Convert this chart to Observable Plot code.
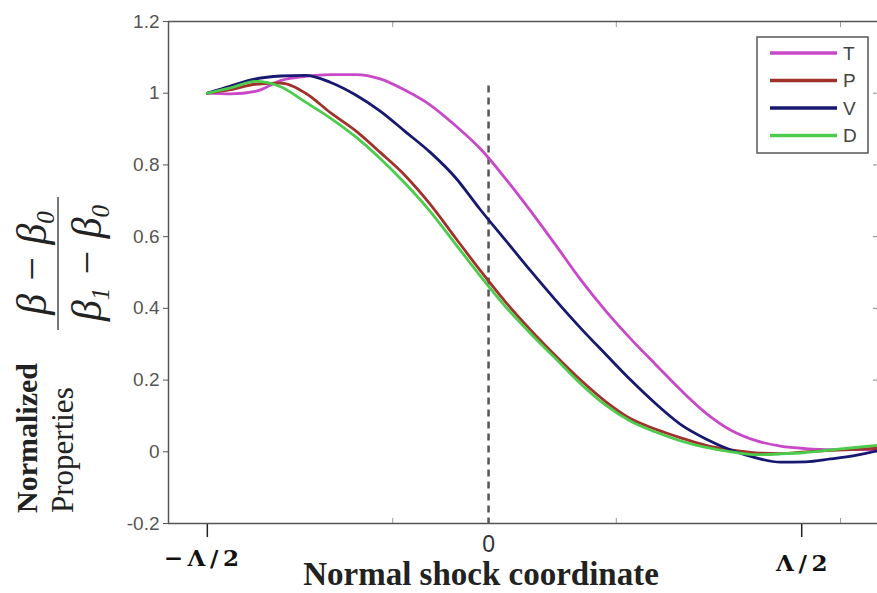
<!DOCTYPE html>
<html><head><meta charset="utf-8">
<script src="https://cdn.jsdelivr.net/npm/d3@7"></script>
<script src="https://cdn.jsdelivr.net/npm/@observablehq/plot@0.6"></script>
<style>html,body{margin:0;padding:0;background:#fff;overflow:hidden}</style>
</head><body><div id="chart"></div>
<script>
// x in units of Λ (shock-normal coordinate), y normalized property
const xDomain = [-0.511, 0.621];
const yDomain = [-0.2, 1.2];
const yTicks = [-0.2, 0, 0.2, 0.4, 0.6, 0.8, 1, 1.2];
const xLabelTicks = [-0.449, 0.5];
const xLabelTexts = ["−\u2009Λ\u2009/\u20092", "Λ\u2009/\u20092"];
const xZero = [0];
const xMinorTicks = [-0.153, 0.204, 0.562];
const dashTop = 1.02;

const xGrid = [-0.449, -0.412, -0.372, -0.332, -0.292, -0.252, -0.212, -0.173, -0.133, -0.093,
  -0.053, -0.013, 0.027, 0.067, 0.107, 0.147, 0.187, 0.227, 0.267, 0.307,
  0.347, 0.387, 0.427, 0.466, 0.506, 0.546, 0.586, 0.621];

const seriesNames = ["T", "P", "V", "D"];
const seriesColors = ["#c848c8", "#a0322b", "#17186f", "#4ccc4c"];

const tValues = [1.0, 0.998, 1.005, 1.035, 1.047, 1.052, 1.052, 1.04, 1.008, 0.967,
  0.91, 0.845, 0.762, 0.672, 0.577, 0.48, 0.393, 0.315, 0.243, 0.172,
  0.108, 0.06, 0.031, 0.016, 0.009, 0.006, 0.006, 0.007];
const pValues = [1.0, 1.01, 1.025, 1.028, 1.0, 0.945, 0.895, 0.835, 0.77, 0.69,
  0.597, 0.505, 0.418, 0.34, 0.268, 0.2, 0.14, 0.092, 0.063, 0.039,
  0.018, 0.005, -0.003, -0.005, 0.0, 0.004, 0.007, 0.01];
const vValues = [1.0, 1.02, 1.04, 1.048, 1.05, 1.03, 0.995, 0.95, 0.893, 0.835,
  0.765, 0.675, 0.59, 0.505, 0.423, 0.345, 0.272, 0.2, 0.134, 0.076,
  0.036, 0.005, -0.017, -0.029, -0.028, -0.02, -0.01, 0.003];
const dValues = [1.0, 1.015, 1.033, 1.018, 0.975, 0.93, 0.878, 0.818, 0.748, 0.67,
  0.58, 0.49, 0.405, 0.33, 0.26, 0.19, 0.13, 0.085, 0.055, 0.03,
  0.012, 0.0, -0.008, -0.006, -0.002, 0.005, 0.012, 0.018];

const seriesValues = [tValues, pValues, vValues, dValues];
const rows = seriesNames.flatMap((name, i) => xGrid.map((x, j) => ({series: name, x, y: seriesValues[i][j]})));

const serifBold = "DejaVu Serif, serif";
const times = "Liberation Serif, Times New Roman, serif";
const sans = "Liberation Sans, Arial, sans-serif";

const plot = Plot.plot({
  width: 877, height: 593,
  marginLeft: 168, marginRight: 0, marginTop: 21, marginBottom: 70,
  x: {domain: xDomain, axis: null},
  y: {domain: yDomain, axis: null},
  color: {domain: seriesNames, range: seriesColors},
  style: {background: "white", overflow: "visible"},
  marks: [
    Plot.axisY(yTicks, {anchor: "left", label: null, tickSize: 5, tickPadding: 4, fontSize: 19, fontFamily: sans, color: "#555", tickFormat: d => String(d)}),
    Plot.axisY(yTicks, {anchor: "right", label: null, tickSize: -5, tickFormat: () => "", color: "#888"}),
    Plot.axisX(xMinorTicks, {anchor: "bottom", label: null, tickSize: -5, tickFormat: () => "", color: "#999"}),
    Plot.axisX(xMinorTicks, {anchor: "top", label: null, tickSize: -5, tickFormat: () => "", color: "#999"}),
    Plot.axisX(xLabelTicks, {anchor: "bottom", label: null, tickSize: 14, tickFormat: () => "", color: "#222", strokeWidth: 1.5}),
    Plot.ruleX(xZero, {y1: dashTop, y2: yDomain[0], stroke: "#555", strokeWidth: 2.5, strokeDasharray: "7,5"}),
    Plot.line(rows, {x: "x", y: "y", stroke: "series", strokeWidth: 2.8, curve: "monotone-x"}),
    Plot.ruleY([yDomain[1]], {stroke: "#555", strokeWidth: 1.5}),
    Plot.ruleY([yDomain[0]], {stroke: "#555", strokeWidth: 1.5}),
    Plot.ruleX([xDomain[0]], {stroke: "#555", strokeWidth: 1.5}),
    Plot.text([xLabelTicks[0]], {x: d => d, text: () => xLabelTexts[0], frameAnchor: "bottom", dx: -6, dy: 42, fontSize: 23, fontWeight: "bold", fontFamily: serifBold, fill: "#111"}),
    Plot.text([xLabelTicks[1]], {x: d => d, text: () => xLabelTexts[1], frameAnchor: "bottom", dy: 47, fontSize: 23, fontWeight: "bold", fontFamily: serifBold, fill: "#111"}),
    Plot.text(xZero, {x: d => d, text: () => "0", frameAnchor: "bottom", dy: 28, fontSize: 23, fontFamily: sans, fill: "#333"}),
    Plot.text(["Normal shock coordinate"], {frameAnchor: "bottom", dx: -42, dy: 61, fontSize: 33, fontWeight: "bold", fontFamily: times, fill: "#222"})
  ]
});

document.getElementById("chart").appendChild(plot);
const svg = d3.select(plot);

// Y-axis title
svg.append("text").attr("transform", "translate(37,513) rotate(-90)").attr("text-anchor", "start")
  .attr("font-family", times).attr("font-weight", "bold").attr("font-size", 30).attr("fill", "#222")
  .text("Normalized");
svg.append("text").attr("transform", "translate(73,513) rotate(-90)").attr("text-anchor", "start")
  .attr("font-family", times).attr("font-size", 31).attr("fill", "#222")
  .text("Properties");

// fraction (β − β0)/(β1 − β0)
const num = svg.append("text").attr("transform", "translate(46,263) rotate(-90)")
  .attr("text-anchor", "middle").attr("font-family", times).attr("font-style", "italic")
  .attr("font-size", 42).attr("fill", "#222");
num.append("tspan").text("β − β");
num.append("tspan").attr("font-size", 25).attr("dy", 8).text("0");

const den = svg.append("text").attr("transform", "translate(101,263) rotate(-90)")
  .attr("text-anchor", "middle").attr("font-family", times).attr("font-style", "italic")
  .attr("font-size", 42).attr("fill", "#222");
den.append("tspan").text("β");
den.append("tspan").attr("font-size", 25).attr("dy", 8).text("1");
den.append("tspan").attr("dy", -8).text(" − β");
den.append("tspan").attr("font-size", 25).attr("dy", 8).text("0");

svg.append("line").attr("x1", 58).attr("x2", 58).attr("y1", 197).attr("y2", 330)
  .attr("stroke", "#777").attr("stroke-width", 2);

// legend
const lg = svg.append("g");
lg.append("rect").attr("x", 757).attr("y", 37).attr("width", 111).attr("height", 116)
  .attr("fill", "white").attr("stroke", "#555").attr("stroke-width", 1.5);
seriesNames.forEach((n, i) => {
  const y = 53 + i * 27.5;
  lg.append("line").attr("x1", 770).attr("x2", 837).attr("y1", y).attr("y2", y)
    .attr("stroke", seriesColors[i]).attr("stroke-width", 3.5);
  lg.append("text").attr("x", 843).attr("y", y).attr("dy", "0.35em").attr("text-anchor", "start")
    .attr("font-family", sans).attr("font-size", 19).attr("fill", "#444").text(n);
});
</script>
</body></html>
